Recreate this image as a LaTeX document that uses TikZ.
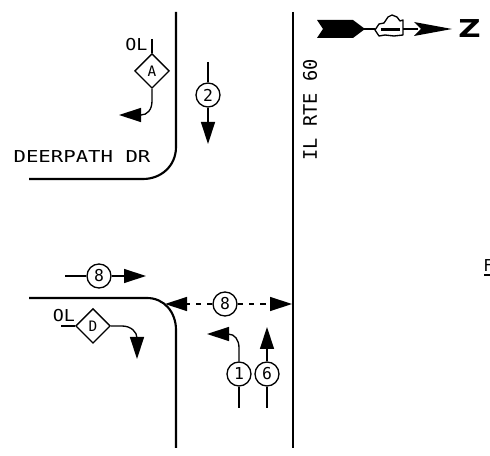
\documentclass[tikz,border=0pt]{standalone}
\usepackage{fontspec}
\setmainfont{DejaVu Sans Mono}
\newfontfamily\zfont{DejaVu Sans}
\usetikzlibrary{arrows.meta,shapes.geometric}
\tikzset{
  road/.style={line width=1.6pt},
  thinline/.style={line width=1pt},
  sig/.style={thinline,-{Triangle[length=16.5pt,width=10.5pt]}},
  ring/.style={circle,draw,thinline,minimum size=18pt,inner sep=0pt,font=\fontsize{12.3}{12.3}\selectfont},
  gem/.style={diamond,draw,thinline,minimum width=26pt,minimum height=26pt,inner sep=0pt,font=\fontsize{10.8}{10.8}\selectfont},
  cadtext/.style={inner sep=0pt,font=\fontsize{12.3}{12.3}\selectfont},
}
\begin{document}
\begin{tikzpicture}[x=0.75pt,y=-0.75pt]
\useasboundingbox (0,0) rectangle (490,456);
% roads
\draw[road] (176,12) -- (176,147) .. controls (176,166) and (161,179) .. (143,179) -- (29,179);
\draw[road] (29,298) -- (147,298) .. controls (164,298) and (176,312) .. (176,330) -- (176,448);
\draw[road] (293,12) -- (293,448);
% labels
\node[cadtext,xscale=1.26] (deer) at (82,157) {DEERPATH DR};
\node[cadtext,rotate=90,font=\fontsize{14}{14}\selectfont] (rte) at (310,110) {IL RTE 60};
\node[cadtext,xscale=1.12] (olA) at (136.5,44.5) {OL};
\node[cadtext,xscale=1.12] (olD) at (64,316) {OL};
\node[cadtext,anchor=west] (edge) at (483,266) {F};
\coordinate (edgeL) at (484,275);
\coordinate (edgeR) at (490,275);
\draw[thinline] (edgeL) -- (edgeR);
% phase A
\node[gem] (A) at (152,71) {A};
\coordinate (Atop) at (152,39);
\coordinate (Atip) at (119,115);
\draw[thinline] (Atop) -- (A.north);
\draw[sig] (A.south) -- (152,101) .. controls (152,110) and (147,115) .. (141,115) -- (Atip);
% phase 2
\node[ring] (s2) at (208,95) {2};
\coordinate (s2a) at (208,62);
\coordinate (s2b) at (208,144);
\draw[thinline] (s2a) -- (s2);
\draw[sig] (s2) -- (s2b);
% phase 8 upper
\node[ring] (s8) at (99,276) {8};
\coordinate (s8a) at (65,276);
\coordinate (s8b) at (146,276);
\draw[thinline] (s8a) -- (s8);
\draw[sig] (s8) -- (s8b);
% phase D
\node[gem] (D) at (93,326) {D};
\coordinate (Dl) at (61,326);
\coordinate (Dtip) at (137,359);
\draw[thinline] (Dl) -- (D.west);
\draw[sig] (D.east) -- (122,326) .. controls (131,326) and (137,332) .. (137,338) -- (Dtip);
% phase 8 pedestrian
\node[ring] (p8) at (225,304) {8};
\coordinate (p8l) at (165,304);
\coordinate (p8r) at (292,304);
\draw[sig,dash pattern=on 4pt off 4.5pt] (p8) -- (p8l);
\draw[sig,dash pattern=on 4pt off 4.5pt] (p8) -- (p8r);
% phase 1
\node[ring] (s1) at (239,374) {1};
\coordinate (s1a) at (239,408);
\coordinate (s1tip) at (207,334);
\draw[thinline] (s1a) -- (s1);
\draw[sig] (s1) -- (239,348) .. controls (239,340) and (235,334) .. (228,334) -- (s1tip);
% phase 6
\node[ring] (s6) at (267,374) {6};
\coordinate (s6a) at (267,408);
\coordinate (s6b) at (267,327);
\draw[thinline] (s6a) -- (s6);
\draw[sig] (s6) -- (s6b);
% north arrow
\fill (317,20) -- (353,20) -- (365,29) -- (353,38) -- (317,38) -- (323,29) -- cycle;
\draw[thinline] (364,29) -- (375,29);
\draw[thinline,line join=round] (375,30) -- (379,24) -- (384,23) -- (388,17) -- (392,15) -- (397,17) -- (400,21) -- (403,20) -- (403,35) -- (394,36) -- (385,35) -- (379,36) -- cycle;
\fill (381,28) rectangle (400,31);
\draw[thinline] (403,29) -- (418,29);
\fill (414,22) -- (452,29) -- (414,36) -- (421,29) -- cycle;
\node[inner sep=0pt,xscale=1.25,font=\zfont\bfseries\fontsize{18.5}{18.5}\selectfont] (north) at (469.5,29) {Z};
\end{tikzpicture}
\end{document}
